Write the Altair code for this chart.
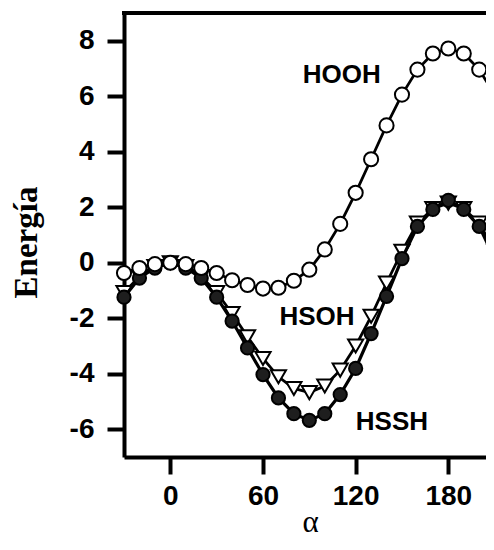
import altair as alt
import pandas as pd

# dihedral angle alpha (degrees)
angles = [-30, -20, -10, 0, 10, 20, 30, 40, 50, 60, 70, 80, 90, 100, 110,
          120, 130, 140, 150, 160, 170, 180, 190, 200, 210]
# energies
hooh = [-0.37, -0.19, -0.05, 0.0, -0.05, -0.19, -0.37, -0.63, -0.80, -0.93,
        -0.90, -0.65, -0.25, 0.48, 1.40, 2.52, 3.73, 4.95, 6.06, 6.96,
        7.54, 7.72, 7.54, 6.96, 6.06]
hsoh = [-1.07, -0.50, -0.14, 0.0, -0.14, -0.50, -1.07, -1.83, -2.67, -3.45,
        -4.11, -4.53, -4.68, -4.44, -3.87, -3.00, -1.93, -0.73, 0.41, 1.43,
        1.95, 2.15, 1.95, 1.43, 0.41]
hssh = [-1.24, -0.55, -0.19, 0.0, -0.19, -0.55, -1.24, -2.10, -3.07, -4.03,
        -4.87, -5.44, -5.68, -5.44, -4.75, -3.81, -2.55, -1.21, 0.15, 1.31,
        1.92, 2.25, 1.92, 1.31, 0.15]

label_text = ["HOOH", "HSOH", "HSSH"]
label_x = [111, 95, 143.5]
label_y = [6.76, -1.95, -5.74]

x_ticks = [0, 60, 120, 180]
y_ticks = [-6, -4, -2, 0, 2, 4, 6, 8]

W, H = 362, 444

x_enc = alt.X(
    "alpha:Q",
    scale=alt.Scale(domain=[-30, 204.4], nice=False, zero=False),
    axis=alt.Axis(
        values=x_ticks, title="α", grid=False,
        domainColor="black", domainWidth=4,
        tickColor="black", tickWidth=4, tickSize=17,
        labelFont="Liberation Sans", labelFontWeight="bold", labelFontSize=28,
        labelColor="black", labelPadding=8,
        titleFont="Liberation Serif", titleFontSize=31, titleFontWeight="normal",
        titleColor="black", titleX=186, titleY=74, titleBaseline="alphabetic",
    ),
)
y_enc = alt.Y(
    "E:Q",
    scale=alt.Scale(domain=[-7, 9], nice=False, zero=False),
    axis=alt.Axis(
        values=y_ticks, title="Energía", grid=False,
        domainColor="black", domainWidth=4,
        tickColor="black", tickWidth=4, tickSize=17,
        labelFont="Liberation Sans", labelFontWeight="bold", labelFontSize=28,
        labelColor="black", labelPadding=13,
        labelExpr="replace(datum.label, '\u2212', '-')",
        titleFont="Liberation Serif", titleFontSize=33, titleFontWeight="bold",
        titleColor="black", titleX=-88, titleY=229, titleAngle=270,
        titleBaseline="alphabetic", titleAlign="center",
    ),
)


def series(vals, shape, fill, size, sw):
    df = pd.DataFrame({"alpha": angles, "E": vals})
    base = alt.Chart(df).encode(x=x_enc, y=y_enc)
    line = base.mark_line(color="black", strokeWidth=sw)
    pts = base.mark_point(shape=shape, filled=True, fill=fill, stroke="black",
                          strokeWidth=2, size=size, opacity=1)
    return line + pts


s_hsoh = series(hsoh, "triangle-down", "white", 230, 2.8)
s_hssh = series(hssh, "circle", "#1e1e1e", 175, 3.2)
s_hooh = series(hooh, "circle", "white", 200, 2.8)

labels = alt.Chart(pd.DataFrame({"alpha": label_x, "E": label_y, "t": label_text})).mark_text(
    font="Liberation Sans", fontWeight="bold", fontSize=26, color="black",
    align="center", baseline="middle"
).encode(x=x_enc, y=y_enc, text="t:N")

top_frame = alt.Chart(pd.DataFrame({"a": [0]})).mark_rule(
    color="black", strokeWidth=4
).encode(x=alt.value(-2), x2=alt.value(W), y=alt.value(0))

chart = alt.layer(s_hsoh, s_hssh, s_hooh, labels, top_frame).properties(
    width=W, height=H,
    padding={"left": 116, "top": 5, "right": 0, "bottom": 83},
    autosize="none",
).configure_view(strokeWidth=0).configure(background="white")

chart.save("out.html", embed_options={"renderer": "svg", "actions": False})
